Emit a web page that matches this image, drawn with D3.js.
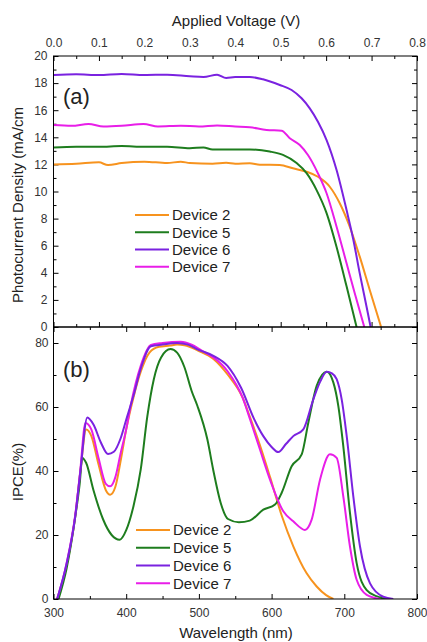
<!DOCTYPE html>
<html><head><meta charset="utf-8">
<script src="https://cdn.jsdelivr.net/npm/d3@7"></script>
<style>body{margin:0;background:#fff;} text{font-family:"Liberation Sans",Arial,sans-serif;}</style>
</head><body><svg id="c" width="427" height="642"></svg>
<script>
// ---------- Data ----------
const devices = ["Device 2","Device 5","Device 6","Device 7"];
const colors = ["#f7931e","#1e7d1e","#7a22e0","#e81ee8"];

// Panel (a) J-V: [voltage V, current density mA/cm2]
const jv2 = [[0,12.0],[0.05,12.05],[0.1,12.15],[0.12,11.95],[0.15,12.1],[0.2,12.2],[0.25,12.1],[0.28,12.2],[0.3,12.1],[0.35,12.05],[0.38,12.12],[0.4,12.05],[0.432,12.08],[0.454,11.98],[0.498,11.96],[0.527,11.71],[0.557,11.46],[0.582,11.09],[0.608,10.35],[0.63,9.13],[0.652,7.4],[0.674,5.19],[0.696,2.73],[0.721,0]];
const jv5 = [[0,13.25],[0.05,13.3],[0.1,13.3],[0.15,13.35],[0.2,13.3],[0.25,13.3],[0.3,13.2],[0.33,13.25],[0.35,13.1],[0.4,13.1],[0.432,13.1],[0.476,12.95],[0.505,12.7],[0.535,12.1],[0.557,11.35],[0.579,10.1],[0.601,8.4],[0.623,5.9],[0.645,3.0],[0.667,0]];
const jv6 = [[0,18.6],[0.05,18.65],[0.1,18.6],[0.15,18.68],[0.2,18.6],[0.25,18.62],[0.3,18.5],[0.33,18.45],[0.36,18.62],[0.38,18.38],[0.4,18.45],[0.432,18.45],[0.461,18.28],[0.498,17.86],[0.524,17.49],[0.546,16.88],[0.564,16.14],[0.582,15.15],[0.601,13.8],[0.623,11.59],[0.645,8.63],[0.66,6.42],[0.674,3.96],[0.689,1.5],[0.698,0]];
const jv7 = [[0,14.9],[0.04,14.85],[0.077,14.98],[0.11,14.8],[0.15,14.85],[0.198,14.98],[0.23,14.8],[0.28,14.85],[0.32,14.8],[0.36,14.88],[0.4,14.8],[0.432,14.74],[0.469,14.54],[0.502,14.49],[0.52,13.93],[0.542,13.43],[0.56,12.69],[0.582,11.34],[0.601,9.87],[0.623,7.4],[0.645,4.7],[0.663,2.49],[0.684,0]];

// Panel (b) IPCE: [wavelength nm, IPCE %]
const ip2 = [[305,0],[318,10.5],[330,26],[337,40],[345,53],[352,51],[362,42],[372,34],[378,32.6],[385,35],[393,44],[400,53],[410,63],[420,71],[432,77],[445,78.8],[460,79.2],[470,79.5],[480,79.3],[500,77.5],[520,75],[540,70],[560,63],[570,57],[584,48],[598,38],[614,26],[630,16.4],[648,8.1],[662,3.9],[675,1.2],[685,0]];
const ip5 = [[307,0],[318,9.5],[330,25.8],[336,36],[339.6,44.1],[345,42.5],[355,34],[368,25],[380,20],[391,18.5],[400,21.5],[410,29],[420,40.5],[429,57],[438,68.7],[448,75.5],[461,78.1],[470,77],[480,72.5],[490,65],[498,60.3],[511.6,49.9],[520,40],[530,30],[540,25],[555,24],[570,24.5],[588.6,27.9],[604.7,29.5],[613.9,33.2],[627.6,41.5],[641.4,45.2],[650.5,55.1],[662,66.6],[675.8,71],[684.9,67.7],[691.8,60.3],[698.6,47.8],[707.8,26.9],[717,11.2],[730.8,2.8],[745,0.8],[760,0]];
const ip6 = [[305,0],[318,11],[330,26],[337,40],[346.5,56.7],[355,54.5],[365,49],[375,45.3],[383,46],[392,50],[400,56],[410,63.5],[420,72],[434,79],[450,79.5],[470,80],[485,79.5],[498,78],[520,76],[539,72.9],[558,66],[576,56.2],[588.6,50.9],[600,47.5],[609.2,45.9],[620,48.5],[629.8,50.9],[643.6,53],[657.4,62.4],[667,68],[675.8,71],[683,70.5],[689.5,68.7],[696.4,62.4],[703.3,50.9],[712.4,32.1],[721.6,16.4],[735.4,4.9],[753.6,0.7],[767.4,0]];
const ip7 = [[305,0],[318,11.2],[329.6,25.8],[336.5,39.4],[344,55],[352,53],[362,44],[372,36],[378,35.2],[385,38],[392,45.2],[400,53],[406,60.3],[420,72.9],[434,79.4],[450,80],[475,80.4],[490,79.5],[505,77.5],[520,75.5],[540,71],[560,63],[570.3,56.2],[584,46.7],[597.8,37.3],[616.1,27.4],[629.8,24.3],[645.9,21.6],[655.1,24.8],[666.6,37.3],[680.3,45.2],[689.5,44.1],[698.6,32.1],[707.8,16.4],[717,6],[730.8,1.3],[749,0]];

const jvSeries = [jv2, jv5, jv6, jv7];
const ipSeries = [ip2, ip5, ip6, ip7];

const vTicks = [0,0.1,0.2,0.3,0.4,0.5,0.6,0.7,0.8];
const jTicks = [0,2,4,6,8,10,12,14,16,18,20];
const wTicks = [300,400,500,600,700,800];
const ipTicks = [0,20,40,60,80];

// ---------- Layout ----------
const svg = d3.select("#c");
const L = 53.5, R = 417;
const aTop = 56, aBot = 327, bTop = 327, bBot = 599;

const xV = d3.scaleLinear().domain([0,0.8]).range([L,R]);
const yJ = d3.scaleLinear().domain([0,20]).range([aBot,aTop]);
const xW = d3.scaleLinear().domain([300,800]).range([L,R]);
const yI = d3.scaleLinear().domain([0,85]).range([bBot,bTop]);

const lblColor = "#333";
function styleAxis(g){
  g.select(".domain").remove();
  g.selectAll(".tick line").attr("stroke","#000");
  g.selectAll(".tick text").attr("fill",lblColor).style("font-size","12px");
}
function range(a,b,s){const r=[];for(let v=a;v<=b+1e-9;v+=s)r.push(+v.toFixed(4));return r;}

// Panel a axes
svg.append("g").attr("transform",`translate(0,${aTop})`)
  .call(d3.axisTop(xV).tickValues(vTicks).tickFormat(d3.format(".1f")).tickSizeInner(-5).tickSizeOuter(0).tickPadding(9)).call(styleAxis);
svg.append("g").attr("transform",`translate(0,${aTop})`)
  .call(d3.axisTop(xV).tickValues(range(0.05,0.75,0.1)).tickFormat("").tickSizeInner(-3).tickSizeOuter(0)).call(styleAxis);
svg.append("g").attr("transform",`translate(0,${aBot})`)
  .call(d3.axisBottom(xV).tickValues(vTicks).tickFormat("").tickSizeInner(-5).tickSizeOuter(0)).call(styleAxis);
svg.append("g").attr("transform",`translate(0,${aBot})`)
  .call(d3.axisBottom(xV).tickValues(range(0.05,0.75,0.1)).tickFormat("").tickSizeInner(-3).tickSizeOuter(0)).call(styleAxis);
svg.append("g").attr("transform",`translate(${L},0)`)
  .call(d3.axisLeft(yJ).tickValues(jTicks).tickFormat(d3.format("d")).tickSizeInner(-5).tickSizeOuter(0).tickPadding(6)).call(styleAxis);
svg.append("g").attr("transform",`translate(${L},0)`)
  .call(d3.axisLeft(yJ).tickValues(range(1,19,2)).tickFormat("").tickSizeInner(-3).tickSizeOuter(0)).call(styleAxis);
svg.append("g").attr("transform",`translate(${R},0)`)
  .call(d3.axisRight(yJ).tickValues(jTicks).tickFormat("").tickSizeInner(-5).tickSizeOuter(0)).call(styleAxis);
svg.append("g").attr("transform",`translate(${R},0)`)
  .call(d3.axisRight(yJ).tickValues(range(1,19,2)).tickFormat("").tickSizeInner(-3).tickSizeOuter(0)).call(styleAxis);

// Panel b axes
svg.append("g").attr("transform",`translate(0,${bBot})`)
  .call(d3.axisBottom(xW).tickValues(wTicks).tickFormat(d3.format("d")).tickSizeInner(-5).tickSizeOuter(0).tickPadding(9)).call(styleAxis);
svg.append("g").attr("transform",`translate(0,${bBot})`)
  .call(d3.axisBottom(xW).tickValues(range(350,750,100)).tickFormat("").tickSizeInner(-3).tickSizeOuter(0)).call(styleAxis);
svg.append("g").attr("transform",`translate(0,${bTop})`)
  .call(d3.axisTop(xW).tickValues(wTicks).tickFormat("").tickSizeInner(-5).tickSizeOuter(0)).call(styleAxis);
svg.append("g").attr("transform",`translate(0,${bTop})`)
  .call(d3.axisTop(xW).tickValues(range(350,750,100)).tickFormat("").tickSizeInner(-3).tickSizeOuter(0)).call(styleAxis);
svg.append("g").attr("transform",`translate(${L},0)`)
  .call(d3.axisLeft(yI).tickValues(ipTicks).tickFormat(d3.format("d")).tickSizeInner(-5).tickSizeOuter(0).tickPadding(5)).call(styleAxis);
svg.append("g").attr("transform",`translate(${L},0)`)
  .call(d3.axisLeft(yI).tickValues(range(10,80,20)).tickFormat("").tickSizeInner(-3).tickSizeOuter(0)).call(styleAxis);
svg.append("g").attr("transform",`translate(${R},0)`)
  .call(d3.axisRight(yI).tickValues(ipTicks).tickFormat("").tickSizeInner(-5).tickSizeOuter(0)).call(styleAxis);
svg.append("g").attr("transform",`translate(${R},0)`)
  .call(d3.axisRight(yI).tickValues(range(10,80,20)).tickFormat("").tickSizeInner(-3).tickSizeOuter(0)).call(styleAxis);

// Clips
const defs = svg.append("defs");
defs.append("clipPath").attr("id","ca").append("rect").attr("x",L).attr("y",aTop).attr("width",R-L).attr("height",aBot-aTop);
defs.append("clipPath").attr("id","cb").append("rect").attr("x",L).attr("y",bTop).attr("width",R-L).attr("height",bBot-bTop);

// Curves
const lineA = d3.line().x(d=>xV(d[0])).y(d=>yJ(d[1])).curve(d3.curveMonotoneX);
const lineB = d3.line().x(d=>xW(d[0])).y(d=>yI(d[1])).curve(d3.curveMonotoneX);
const gA = svg.append("g").attr("clip-path","url(#ca)");
jvSeries.forEach((s,i)=>gA.append("path").attr("d",lineA(s)).attr("fill","none").attr("stroke",colors[i]).attr("stroke-width",2));
const gB = svg.append("g").attr("clip-path","url(#cb)");
[0,1,3,2].forEach(i=>gB.append("path").attr("d",lineB(ipSeries[i])).attr("fill","none").attr("stroke",colors[i]).attr("stroke-width",2));

// Frames
svg.append("rect").attr("x",L).attr("y",aTop).attr("width",R-L).attr("height",aBot-aTop).attr("fill","none").attr("stroke","#000").attr("stroke-width",1);
svg.append("rect").attr("x",L).attr("y",bTop).attr("width",R-L).attr("height",bBot-bTop).attr("fill","none").attr("stroke","#000").attr("stroke-width",1);

// Titles
svg.append("text").attr("x",236).attr("y",26).attr("text-anchor","middle").style("font-size","15px").attr("fill","#222").text("Applied Voltage (V)");
svg.append("text").attr("x",236).attr("y",638).attr("text-anchor","middle").style("font-size","15px").attr("fill","#222").text("Wavelength (nm)");
svg.append("text").attr("transform","translate(23,205) rotate(-90)").attr("text-anchor","middle").style("font-size","15px").attr("fill","#222").text("Photocurrent Density (mA/cm");
svg.append("text").attr("transform","translate(23,472) rotate(-90)").attr("text-anchor","middle").style("font-size","15px").attr("fill","#222").text("IPCE(%)");
svg.append("text").attr("x",63).attr("y",104).style("font-size","22px").attr("fill","#222").text("(a)");
svg.append("text").attr("x",63).attr("y",377).style("font-size","22px").attr("fill","#222").text("(b)");

// Legends
function legend(x0, ys){
  devices.forEach((d,i)=>{
    svg.append("line").attr("x1",x0).attr("x2",x0+34).attr("y1",ys[i]).attr("y2",ys[i]).attr("stroke",colors[i]).attr("stroke-width",2);
    svg.append("text").attr("x",x0+37).attr("y",ys[i]).attr("dy","0.36em").style("font-size","15px").attr("fill","#222").text(d);
  });
}
legend(135,[215,232.3,249.5,266.7]);
legend(136,[530,547.7,565.5,583.3]);
</script></body></html>
